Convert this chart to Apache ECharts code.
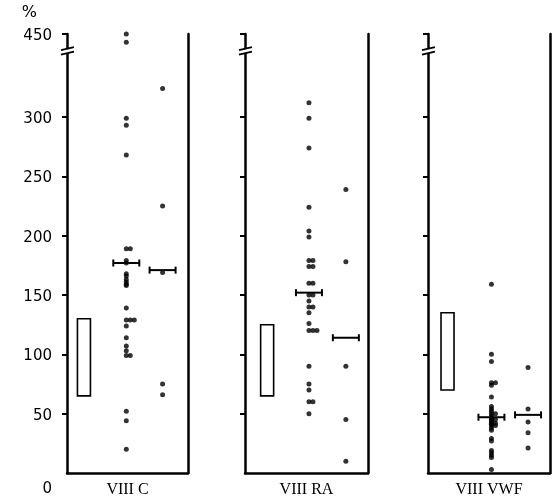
<!DOCTYPE html>
<html><head><meta charset="utf-8">
<script src="https://cdn.jsdelivr.net/npm/echarts@6/dist/echarts.min.js"></script>
<style>html,body{margin:0;padding:0;background:#fff}#c{width:552px;height:503px}</style>
</head><body><div id="c"></div>
<script>
// ---- data ----
const categories = ['VIII C', 'VIII RA', 'VIII VWF'];
const yTickValues = [0, 50, 100, 150, 200, 250, 300, 450];
const normalRanges = [[65, 130], [65, 125], [70, 135]];
const vcPatients = [450, 443, 299, 293, 268, 189, 189, 179, 177, 168, 166, 163, 161, 159, 158, 139, 129, 129, 129, 124, 114, 107, 103, 99, 99, 52, 44, 20];
const vcCarriers = [324, 225, 169, 75, 66];
const raPatients = [312, 299, 274, 224, 204, 199, 179, 179, 174, 174, 160, 160, 150, 150, 145, 140, 140, 135, 126, 120, 120, 120, 90, 75, 70, 60, 60, 50];
const raCarriers = [239, 178, 90, 45, 10];
const vwfPatients = [159, 100, 94, 76, 76, 74, 64, 56, 54, 52, 50, 50, 48, 46, 45, 45, 44, 43, 42, 42, 41, 40, 40, 38, 36, 29, 27, 19, 17, 15, 13, 3];
const vwfCarriers = [89, 54, 43, 34, 21];
const patientMeans = [177, 152, 47];
const carrierMeans = [171, 114, 49];

const patients = [vcPatients, raPatients, vwfPatients];
const carriers = [vcCarriers, raCarriers, vwfCarriers];

// ---- broken axis: values above 400 are shifted down by 80 ----
const BREAK_SHIFT = 80;
function toAxis(v) { return v > 400 ? v - BREAK_SHIFT : v; }
const AXIS_MAX = 370;
const BREAK_AT = 356;

// ---- layout ----
const grids = [
  { left: 67, width: 121 },
  { left: 245, width: 123 },
  { left: 428, width: 122 }
];
const rectX = [0.14, 0.18, 0.16];
const colAX = [0.49, 0.52, 0.52];
const colBX = [0.79, 0.82, 0.82];

const numFont = 'DejaVu Sans';
const tickVals = yTickValues.filter(v => v !== 0).map(toAxis);
const labelVals = yTickValues.map(toAxis);

function dotData(arr, x) {
  const seen = {};
  return arr.map(v => {
    const k = seen[v] || 0; seen[v] = k + 1;
    return { value: [x, toAxis(v)], symbolOffset: [k * 4, 0] };
  });
}

const option = {
  animation: false,
  backgroundColor: '#fff',
  grid: grids.map(g => ({ left: g.left, width: g.width, top: 34, bottom: 25 })),
  xAxis: grids.map((g, i) => ({
    gridIndex: i, type: 'value', min: 0, max: 1,
    axisLine: { show: true, lineStyle: { color: '#000', width: 2.5 } },
    axisTick: { show: false }, axisLabel: { show: false }, splitLine: { show: false },
    name: categories[i], nameLocation: 'middle', nameGap: 9,
    nameTextStyle: { fontFamily: 'Liberation Serif', fontSize: 16, color: '#000', verticalAlign: 'top' }
  })),
  yAxis: [].concat(...grids.map((g, i) => ([
    {
      gridIndex: i, type: 'value', min: 0, max: AXIS_MAX, position: 'left',
      name: i === 0 ? '%' : '', nameLocation: 'end', nameGap: 13,
      nameTextStyle: { fontFamily: numFont, fontSize: 16, color: '#000', align: 'right', padding: [0, 30, 0, 0] },
      axisLine: { show: true, lineStyle: { color: '#000', width: 2.5 } },
      axisTick: { show: true, inside: false, length: 5, lineStyle: { color: '#000', width: 2 }, customValues: tickVals },
      axisLabel: {
        show: i === 0, margin: 15, color: '#000', fontFamily: numFont, fontSize: 15,
        padding: [4, 0, 0, 0],
        customValues: labelVals,
        formatter: v => v === 0 ? '{z|0}' : String(v > 340 ? v + BREAK_SHIFT : v),
        rich: { z: { fontFamily: numFont, fontSize: 15, color: '#000', padding: [28, 0, 0, 0] } }
      },
      splitLine: { show: false }
    },
    {
      gridIndex: i, type: 'value', min: 0, max: AXIS_MAX, position: 'right',
      axisLine: { show: true, lineStyle: { color: '#000', width: 2.5 } },
      axisTick: { show: false }, axisLabel: { show: false }, splitLine: { show: false }
    }
  ]))),
  series: [].concat(...grids.map((g, i) => ([
    {
      type: 'custom', xAxisIndex: i, yAxisIndex: i * 2, z: 2,
      data: [[rectX[i], normalRanges[i][0], normalRanges[i][1]]],
      renderItem: (params, api) => {
        const top = api.coord([api.value(0), api.value(2)]);
        const bot = api.coord([api.value(0), api.value(1)]);
        return { type: 'rect', shape: { x: top[0] - 6.5, y: top[1], width: 13, height: bot[1] - top[1] },
          style: { fill: '#fff', stroke: '#000', lineWidth: 1.6 } };
      }
    },
    {
      type: 'scatter', xAxisIndex: i, yAxisIndex: i * 2, symbol: 'circle', symbolSize: 5,
      itemStyle: { color: '#000' }, data: dotData(patients[i], colAX[i]), z: 3
    },
    {
      type: 'scatter', xAxisIndex: i, yAxisIndex: i * 2, symbol: 'circle', symbolSize: 5,
      itemStyle: { color: '#000' }, data: dotData(carriers[i], colBX[i]), z: 3
    },
    {
      type: 'custom', xAxisIndex: i, yAxisIndex: i * 2, z: 4,
      data: [[colAX[i], patientMeans[i]], [colBX[i], carrierMeans[i]]],
      renderItem: (params, api) => {
        const p = api.coord([api.value(0), api.value(1)]);
        const s = { stroke: '#000', lineWidth: 2 };
        return { type: 'group', children: [
          { type: 'line', shape: { x1: p[0] - 13, y1: p[1], x2: p[0] + 13, y2: p[1] }, style: s },
          { type: 'line', shape: { x1: p[0] - 13, y1: p[1] - 3.5, x2: p[0] - 13, y2: p[1] + 3.5 }, style: s },
          { type: 'line', shape: { x1: p[0] + 13, y1: p[1] - 3.5, x2: p[0] + 13, y2: p[1] + 3.5 }, style: s }
        ] };
      }
    }
  ])))
};

const chart = echarts.init(document.getElementById('c'), null, { renderer: 'canvas' });
chart.setOption(option);

// axis break marks
const gfx = [];
grids.forEach((g, i) => {
  const p = chart.convertToPixel({ gridIndex: i }, [0, BREAK_AT]);
  const ax = p[0], yb = p[1];
  gfx.push({ type: 'rect', z: 100, shape: { x: ax - 3, y: yb - 1.5, width: 6, height: 4 }, style: { fill: '#fff' } });
  gfx.push({ type: 'line', z: 101, shape: { x1: ax - 6, y1: yb - 0.5, x2: ax + 7, y2: yb - 3.5 }, style: { stroke: '#000', lineWidth: 2 } });
  gfx.push({ type: 'line', z: 101, shape: { x1: ax - 6, y1: yb + 4, x2: ax + 7, y2: yb + 1 }, style: { stroke: '#000', lineWidth: 2 } });
});
chart.setOption({ graphic: gfx });
</script></body></html>
